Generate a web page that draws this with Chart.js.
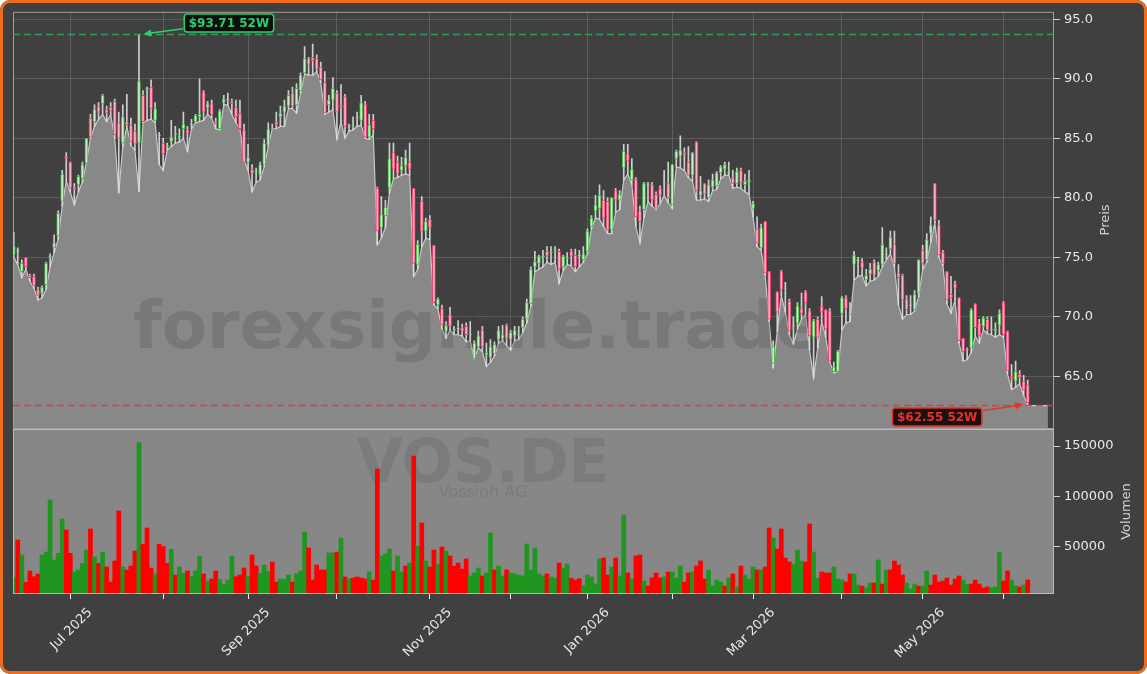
<!DOCTYPE html>
<html><head><meta charset="utf-8">
<script src="https://cdn.jsdelivr.net/npm/chart.js@4.4.1/dist/chart.umd.min.js"></script>
<style>
html,body{margin:0;padding:0;background:#ffffff;}
#frame{position:relative;width:1147px;height:674px;background:#404040;border-radius:10px;overflow:hidden;}
#frame canvas{position:absolute;left:0;top:0;}
#edge{position:absolute;left:0;top:0;width:1147px;height:674px;box-sizing:border-box;border:3px solid #f26a1b;border-radius:10px;pointer-events:none;}
</style></head><body>
<div id="frame">
<canvas id="price" width="1147" height="674"></canvas>
<canvas id="vol" width="1147" height="674"></canvas>
<div id="edge"></div>
</div>
<script>
// ---- data (trading-day index 0 = 11 Jun 2025) ----
const opens = [
75.2,75.5,73.8,75.0,73.5,73.4,72.3,72.0,72.7,75.0,
75.8,76.8,79.7,83.5,83.0,80.9,81.1,81.6,82.9,86.7,
86.4,87.7,87.9,87.4,87.6,88.1,86.3,84.6,86.4,86.1,
85.6,84.6,88.6,89.1,89.3,86.5,85.2,84.6,84.3,84.7,
85.3,85.1,85.8,85.7,86.1,86.4,86.8,88.9,87.6,87.9,
86.4,85.8,88.0,88.2,88.1,87.6,87.1,85.7,83.0,82.4,
82.2,81.9,82.8,84.4,85.8,86.4,86.8,87.2,87.7,88.8,
87.8,89.0,90.5,91.7,91.8,91.7,91.0,89.7,87.8,88.2,
88.8,87.8,88.5,85.9,86.0,86.7,86.5,87.9,85.1,86.5,
80.8,77.5,78.5,80.8,83.8,83.0,82.3,82.7,83.0,80.8,
74.4,79.7,77.2,78.2,76.0,71.0,70.7,68.8,70.2,68.9,
69.0,69.1,69.2,68.5,66.5,67.5,68.9,66.8,66.6,66.9,
68.1,68.2,69.3,68.1,68.4,68.5,69.1,69.8,71.1,74.2,
74.5,75.0,75.5,75.4,75.6,75.5,74.2,74.9,75.5,75.2,
75.1,74.8,75.5,77.6,78.9,79.1,79.8,79.7,77.3,80.6,
79.8,82.5,83.7,81.5,81.6,78.9,79.0,81.1,81.1,80.3,
80.8,81.2,81.2,79.4,83.3,83.5,83.8,83.0,81.9,84.7,
80.2,81.2,80.0,80.9,81.0,82.1,82.4,82.1,81.7,81.2,
82.3,81.1,81.3,79.1,77.4,75.8,78.0,73.8,66.1,72.1,
73.8,71.9,71.3,69.2,69.5,70.7,72.1,70.5,68.3,69.8,
70.9,70.6,70.5,65.4,65.4,70.3,71.6,70.2,74.4,74.7,
74.6,73.1,73.6,74.6,73.9,74.4,75.2,75.7,76.1,73.7,
73.5,71.5,70.9,70.6,72.0,75.6,74.8,77.0,81.2,77.7,
75.4,73.8,71.9,72.8,71.6,68.2,67.3,67.4,71.1,69.5,
69.2,69.8,68.9,68.8,69.3,71.2,68.8,65.0,64.6,65.2,
64.6,64.3];
const highs = [
77.1,75.8,74.8,75.0,73.6,73.6,72.5,72.6,74.6,75.3,
76.9,78.9,82.3,83.8,83.0,81.2,81.9,83.0,85.0,87.0,
87.8,88.0,88.7,87.7,88.0,88.3,87.2,87.8,88.7,86.7,
86.2,93.71,89.0,89.3,89.9,88.0,85.5,85.0,84.6,86.5,
86.0,85.8,87.2,86.0,86.6,87.0,90.0,89.0,88.1,88.2,
86.7,87.4,88.6,88.8,88.3,88.2,88.2,86.2,84.5,82.8,
82.5,83.0,84.9,86.3,86.2,87.2,87.7,88.2,89.0,89.3,
89.6,90.5,92.7,91.8,92.9,92.0,91.4,90.6,88.6,90.1,
89.0,89.5,88.7,86.2,86.8,87.2,88.6,88.1,87.0,87.0,
80.9,80.1,79.8,84.6,84.6,83.5,83.4,84.0,84.6,80.8,
76.4,80.1,78.3,78.5,76.0,71.6,71.0,69.6,70.8,69.2,
69.7,69.4,69.5,69.6,68.0,68.8,69.2,67.8,68.1,67.9,
69.2,69.3,69.4,68.9,69.2,69.2,70.0,71.5,74.2,75.5,
75.2,75.6,75.9,75.9,75.9,75.7,75.2,75.4,75.7,75.7,
75.6,75.9,77.4,78.5,80.2,81.1,80.6,80.0,80.0,80.8,
80.6,84.5,84.5,83.3,81.7,79.3,81.3,81.3,81.3,80.5,
81.0,82.3,83.0,82.8,84.0,85.2,84.2,84.3,83.8,84.7,
81.8,81.2,81.5,82.0,82.2,82.7,83.0,83.0,82.3,82.5,
82.5,82.0,82.3,79.7,78.4,77.8,78.0,73.8,68.0,72.1,
73.9,72.9,71.5,70.0,71.2,72.0,72.2,70.7,69.8,70.0,
71.7,70.6,70.7,66.2,67.2,71.7,71.8,71.2,75.5,75.0,
74.9,74.0,74.5,74.8,74.6,77.5,75.8,77.2,77.2,74.4,
73.6,71.8,71.8,72.2,74.8,76.0,77.0,78.4,81.2,78.1,
75.6,73.8,73.4,73.0,71.6,68.2,67.4,70.7,71.1,69.8,
70.0,70.0,70.0,69.5,70.6,71.3,68.8,66.0,66.3,65.5,
65.1,64.7];
const lows = [
75.0,74.4,73.3,74.0,73.0,72.4,71.4,71.6,72.3,74.2,
75.4,76.5,79.3,81.4,80.5,79.4,80.5,81.3,83.0,85.0,
86.0,86.6,87.0,86.4,87.0,85.0,80.4,84.3,86.0,84.4,
84.0,80.5,86.3,86.5,86.6,86.3,82.8,82.3,84.0,84.3,
84.6,84.7,85.0,83.9,85.8,86.3,86.4,86.5,87.0,86.7,
85.8,85.7,87.8,87.8,87.0,86.3,85.8,83.2,82.3,80.5,
81.3,81.5,82.6,84.3,85.8,85.8,86.0,86.0,87.5,87.5,
87.1,88.8,90.4,90.3,90.3,90.6,89.7,87.0,87.2,87.4,
84.9,86.4,85.0,85.6,85.7,86.0,86.1,85.0,84.9,85.3,
76.05,76.6,77.5,80.4,81.6,81.7,81.9,82.0,81.9,73.4,
74.0,75.9,76.6,76.5,71.0,70.7,69.0,68.2,68.9,68.5,
68.5,68.4,67.9,68.0,66.5,67.4,67.1,65.85,66.2,66.7,
67.8,68.0,67.6,67.2,68.0,68.1,68.7,69.5,70.9,73.8,
74.0,74.2,74.6,74.4,74.6,72.8,73.9,74.4,74.3,73.8,
74.2,74.6,75.3,77.4,78.3,78.2,77.6,77.0,77.0,78.8,
79.0,81.5,82.0,81.1,77.6,76.2,78.3,79.7,79.3,79.0,
79.5,80.2,79.6,79.1,82.6,82.5,82.3,81.7,81.4,79.8,
79.8,79.9,79.7,80.6,80.7,81.6,81.9,81.9,80.8,80.9,
80.8,80.5,80.3,78.4,75.9,75.6,73.5,69.6,65.7,68.8,
71.8,70.4,68.5,67.7,69.0,69.8,70.2,67.2,64.9,67.4,
69.6,68.3,66.2,65.3,65.4,68.9,69.5,69.6,73.1,73.4,
73.5,72.6,73.0,73.1,73.4,74.2,74.8,75.3,74.2,71.0,
69.8,70.2,70.2,70.5,71.7,74.0,74.6,76.3,77.9,75.0,
74.3,71.1,70.3,71.4,67.8,66.3,66.4,67.0,68.4,67.8,
68.9,68.6,68.5,68.3,68.5,68.3,65.2,63.9,64.1,64.4,
63.4,62.55];
const closes = [
75.97,75.5,74.5,74.2,73.3,72.6,71.8,72.5,74.5,75.0,
76.2,78.7,82.0,83.3,80.8,80.7,81.8,82.8,85.0,85.1,
87.4,87.2,88.6,87.1,87.3,85.3,85.0,86.8,86.1,84.7,
84.5,89.8,86.4,89.1,87.5,87.5,85.2,83.7,84.3,85.1,
85.3,85.1,86.2,85.4,86.1,86.9,87.0,87.2,87.9,87.0,
86.2,87.3,88.3,88.2,87.9,86.8,85.8,83.0,83.4,82.0,
82.2,82.8,84.6,85.8,85.85,86.1,87.1,87.7,88.6,87.7,
89.2,90.3,91.7,91.2,91.5,90.8,89.9,87.1,88.2,89.2,
87.2,87.6,86.0,85.85,86.0,86.7,88.0,85.1,86.1,85.8,
77.2,78.6,79.2,83.3,82.4,82.0,82.7,83.4,82.4,74.5,
76.1,77.2,78.0,77.5,71.2,71.5,69.3,69.3,69.2,68.9,
69.0,68.8,68.5,68.5,67.8,68.4,67.5,67.0,67.5,67.7,
68.9,68.5,68.2,68.7,68.9,68.5,69.8,71.2,74.0,74.65,
75.1,75.0,75.1,75.4,75.6,74.0,75.1,74.9,75.1,74.2,
75.1,75.3,77.2,78.3,79.4,80.2,78.3,77.3,80.0,79.8,
80.3,83.9,83.1,82.4,78.4,78.0,81.2,81.1,79.8,79.1,
80.2,81.2,80.0,82.8,83.9,84.0,83.6,81.9,83.8,80.6,
80.6,80.3,81.1,81.5,82.1,82.6,82.8,82.1,81.2,82.2,
81.3,81.4,81.5,79.5,76.2,77.5,73.7,69.8,67.5,70.4,
72.3,71.9,68.8,69.2,70.9,70.3,71.2,68.4,69.7,68.3,
70.4,69.0,66.3,65.8,67.1,71.6,70.7,70.2,75.2,74.7,
74.1,73.5,74.0,73.5,74.4,76.1,75.2,76.7,74.5,73.3,
71.4,70.6,70.9,71.9,74.8,74.5,76.5,77.7,78.1,75.2,
74.5,71.4,71.6,72.4,68.0,67.1,67.2,70.6,69.1,68.4,
69.9,68.9,68.9,69.0,70.3,68.5,65.5,64.8,65.4,64.9,
63.9,62.8];
const volumes = [
19100,56600,41700,14500,25800,20100,22800,41700,44600,96300,
36700,43300,77400,66500,43300,24800,26800,33400,46600,67500,
39700,33400,44300,29700,14800,35700,85400,29700,26800,30700,
45600,153300,52300,68500,28700,22800,52300,50000,33400,47300,
21800,29700,23400,25800,20100,25800,40700,22800,15800,17800,
25800,17500,12200,16800,40700,20100,21800,28700,20100,41700,
30700,23400,31700,25100,34700,14800,17800,17500,21800,14800,
22800,25800,64500,48600,16800,31700,26800,26800,43700,43700,
44600,58600,19800,17800,18800,19800,18800,17800,24800,16800,
127100,40700,42700,47600,25800,40700,24800,30700,33700,140100,
50600,73500,35700,29700,46600,32700,49600,45600,40700,30700,
33700,27700,37700,20800,23800,28700,20800,23800,63500,26800,
30700,20800,26800,23800,22800,21800,20800,52600,26800,48600,
22800,20800,22800,19800,18800,33700,28700,32700,18500,16800,
18100,11200,21800,19800,12800,37700,38700,21800,29700,38700,
20800,81400,23800,17800,40700,41700,15800,10900,18800,23800,
18800,19800,24800,24800,18800,30700,14800,23800,24800,30700,
35700,17800,26800,10800,16800,14800,10800,18800,22800,9900,
30700,21800,17800,29700,26800,26800,29700,68500,58600,47600,
67500,38700,34700,32700,46600,35700,34700,72500,44600,18800,
24800,23800,23800,29700,17800,16800,14800,22800,22800,11800,
10800,8900,13800,13800,36700,12800,26800,26800,35700,31700,
21800,13800,7900,12800,10800,10800,25800,11800,21800,14800,
15800,18800,11800,17800,20800,16800,12500,12800,16800,12800,
8900,9900,8900,9900,44600,15800,25800,16800,10800,9900,
11800,16800];
const volUp = [
1,0,1,0,0,0,0,1,1,1, 1,1,1,0,0,1,1,1,1,0, 1,0,1,0,0,0,0,1,0,0, 0,1,0,0,0,1,0,0,0,1,
0,1,1,0,1,1,1,0,1,0, 0,1,1,1,1,0,0,0,1,0, 0,1,1,1,0,0,1,1,1,0, 1,1,1,0,0,0,0,0,1,1,
0,1,0,1,0,0,0,0,1,0, 0,1,1,1,0,1,1,0,1,0, 1,0,1,0,0,1,0,1,0,0, 0,0,0,1,1,1,0,1,1,0,
1,1,0,1,1,1,1,1,1,1, 1,1,0,1,1,0,1,1,0,0, 0,1,1,1,1,1,0,0,1,0, 1,1,0,1,0,0,1,0,0,0,
0,1,0,1,1,1,0,0,1,0, 0,0,1,1,1,1,0,1,0,1, 0,1,1,1,0,1,0,0,1,0, 0,0,0,1,1,1,0,0,1,1,
0,0,0,1,1,1,0,0,1,1, 0,1,1,0,1,0,1,0,0,0, 0,1,1,1,0,1,1,0,0,0, 0,0,0,0,0,1,1,0,0,0,
0,0,1,1,1,0,0,1,1,0, 1,0];
const tickIdx = [14,37,58,80,103,123,142,163,183,205,225,245];
const tickLabels = ['Jul 2025','','Sep 2025','','Nov 2025','','Jan 2026','','Mar 2026','','May 2026',''];
const priceTicks = [65,70,75,80,85,90,95];
const volTicks = [50000,100000,150000];
const high52 = 93.71, high52Idx = 31;
const low52 = 62.55, low52Idx = 251;
const areaTail = 5;

// ---- build datasets ----
Chart.defaults.font.family = "'DejaVu Sans', sans-serif";
const n = closes.length;
const idx = closes.map((_, i) => i);
const areaPts = lows.map((v, i) => ({x: i, y: v}));
for (let k = 1; k <= areaTail; k++) areaPts.push({x: n - 1 + k, y: lows[n - 1]});
const wickPts = idx.map(i => ({x: i, y: [lows[i], highs[i]]}));
const bodyPts = idx.map(i => ({x: i, y: [opens[i], closes[i]]}));
const isUp = idx.map(i => closes[i] >= opens[i]);
const XMIN = -0.18, XMAX = 257.5;

function roundRectPath(ctx, x, y, w, h, r) {
  ctx.beginPath();
  ctx.moveTo(x + r, y); ctx.lineTo(x + w - r, y); ctx.quadraticCurveTo(x + w, y, x + w, y + r);
  ctx.lineTo(x + w, y + h - r); ctx.quadraticCurveTo(x + w, y + h, x + w - r, y + h);
  ctx.lineTo(x + r, y + h); ctx.quadraticCurveTo(x, y + h, x, y + h - r);
  ctx.lineTo(x, y + r); ctx.quadraticCurveTo(x, y, x + r, y); ctx.closePath();
}
function drawMarker(chart, i, val, lineCol, col, bg, text, box, start, tip) {
  const ctx = chart.ctx, ca = chart.chartArea;
  const px = chart.scales.x.getPixelForValue(i), py = chart.scales.y.getPixelForValue(val);
  ctx.save();
  ctx.beginPath(); ctx.setLineDash([7, 4]); ctx.lineWidth = 1.5; ctx.strokeStyle = lineCol;
  ctx.moveTo(ca.left, py); ctx.lineTo(ca.right, py); ctx.stroke(); ctx.setLineDash([]);
  const sx = px + start[0], sy = py + start[1], tx = px + tip[0], ty = py + tip[1];
  const a = Math.atan2(ty - sy, tx - sx);
  ctx.strokeStyle = col; ctx.fillStyle = col; ctx.lineWidth = 1.5;
  ctx.beginPath(); ctx.moveTo(sx, sy); ctx.lineTo(tx - 6 * Math.cos(a), ty - 6 * Math.sin(a)); ctx.stroke();
  ctx.beginPath(); ctx.moveTo(tx, ty);
  ctx.lineTo(tx - 8 * Math.cos(a) + 3.5 * Math.sin(a), ty - 8 * Math.sin(a) - 3.5 * Math.cos(a));
  ctx.lineTo(tx - 8 * Math.cos(a) - 3.5 * Math.sin(a), ty - 8 * Math.sin(a) + 3.5 * Math.cos(a));
  ctx.closePath(); ctx.fill();
  ctx.font = "bold 12px 'DejaVu Sans'";
  const w = ctx.measureText(text).width + 9, h = 18;
  const cx = px + box[0], cy = py + box[1];
  roundRectPath(ctx, cx - w / 2, cy - h / 2, w, h, 3);
  ctx.fillStyle = bg; ctx.fill(); ctx.lineWidth = 1.5; ctx.strokeStyle = col; ctx.stroke();
  ctx.fillStyle = col; ctx.textAlign = 'center'; ctx.textBaseline = 'middle';
  ctx.fillText(text, cx, cy + 0.5);
  ctx.restore();
}
function axisTitle(ctx, text, x, y) {
  ctx.save(); ctx.translate(x, y); ctx.rotate(-Math.PI / 2);
  ctx.font = "13px 'DejaVu Sans'"; ctx.fillStyle = '#d2d2d2';
  ctx.textAlign = 'center'; ctx.textBaseline = 'middle'; ctx.fillText(text, 0, 0); ctx.restore();
}

const pricePlugin = {
  id: 'pricedeco',
  afterDatasetDraw(chart, args) {
    if (args.index !== 0) return;
    const ctx = chart.ctx, ca = chart.chartArea;
    ctx.save();
    ctx.beginPath(); ctx.rect(ca.left, ca.top, ca.right - ca.left, ca.bottom - ca.top); ctx.clip();
    ctx.font = "bold 66px 'DejaVu Sans'"; ctx.fillStyle = 'rgba(62,62,62,0.2)';
    ctx.textAlign = 'left'; ctx.textBaseline = 'alphabetic';
    ctx.fillText('forexsignale.trade', 133, 348);
    ctx.restore();
  },
  afterDraw(chart) {
    const ctx = chart.ctx, ca = chart.chartArea;
    ctx.save(); ctx.strokeStyle = 'rgba(190,190,190,0.75)'; ctx.lineWidth = 1;
    ctx.strokeRect(ca.left + 0.5, ca.top + 0.5, ca.right - ca.left - 1, ca.bottom - ca.top); ctx.restore();
    axisTitle(ctx, 'Preis', ca.right + 52, (ca.top + ca.bottom) / 2);
    drawMarker(chart, high52Idx, high52, 'rgba(46,170,92,0.9)', '#2ecc71', 'rgba(8,12,8,0.92)', '$93.71 52W', [90, -11.5], [44, -5.7], [4.3, -0.4]);
    drawMarker(chart, low52Idx, low52, 'rgba(222,60,52,0.9)', '#ea3127', 'rgba(16,6,6,0.92)', '$62.55 52W', [-90.6, 11.3], [-44.5, 5], [-4.5, -1]);
  }
};
const volPlugin = {
  id: 'voldeco',
  beforeDraw(chart) {
    const ctx = chart.ctx, ca = chart.chartArea;
    ctx.save(); ctx.fillStyle = '#878787'; ctx.fillRect(ca.left, ca.top, ca.right - ca.left, ca.bottom - ca.top); ctx.restore();
  },
  beforeDatasetsDraw(chart) {
    const ctx = chart.ctx;
    ctx.save(); ctx.fillStyle = 'rgba(62,62,62,0.16)'; ctx.textAlign = 'center'; ctx.textBaseline = 'alphabetic';
    ctx.font = "bold 60px 'DejaVu Sans'"; ctx.fillText('VOS.DE', 483, 482);
    ctx.font = "16px 'DejaVu Sans'"; ctx.fillText('Vossloh AG', 483, 497);
    ctx.restore();
  },
  afterDraw(chart) {
    const ctx = chart.ctx, ca = chart.chartArea;
    ctx.save(); ctx.strokeStyle = 'rgba(200,200,200,0.8)'; ctx.lineWidth = 1;
    ctx.strokeRect(ca.left + 0.5, ca.top + 0.5, ca.right - ca.left - 1, ca.bottom - ca.top - 1); ctx.restore();
    axisTitle(ctx, 'Volumen', ca.right + 73, (ca.top + ca.bottom) / 2);
  }
};

const xTicksBuild = s => { s.ticks = tickIdx.map(v => ({value: v})); };

new Chart(document.getElementById('price'), {
  type: 'bar',
  data: { datasets: [
    { type: 'line', data: areaPts, order: 3, fill: 'start', backgroundColor: '#888888',
      borderColor: '#c9c9c9', borderWidth: 1.2, pointRadius: 0, tension: 0 },
    { type: 'bar', data: wickPts, order: 2, grouped: false, barThickness: 1,
      backgroundColor: 'rgba(222,222,222,0.9)', borderWidth: 0 },
    { type: 'bar', data: bodyPts, order: 1, grouped: false, barThickness: 3, minBarLength: 1,
      backgroundColor: isUp.map(u => u ? '#cdeccd' : '#f6b3c4'),
      borderColor: isUp.map(u => u ? '#45b845' : '#e8406c'), borderWidth: 1, borderSkipped: false }
  ]},
  options: {
    responsive: false, animation: false, events: [],
    layout: { padding: { left: 13, top: 11, right: 23, bottom: 246 } },
    plugins: { legend: { display: false }, tooltip: { enabled: false } },
    scales: {
      x: { type: 'linear', offset: false, bounds: 'data', min: XMIN, max: XMAX, afterBuildTicks: xTicksBuild,
           ticks: { display: false }, grid: { color: 'rgba(255,255,255,0.15)', drawTicks: false, offset: false },
           border: { display: false }, afterFit: s => { s.height = 0; } },
      y: { position: 'right', min: 60.67, max: 95.62,
           afterBuildTicks: s => { s.ticks = priceTicks.map(v => ({value: v})); },
           ticks: { color: '#e8e8e8', font: { size: 13 }, padding: 4, callback: v => Number(v).toFixed(1) },
           grid: { color: 'rgba(255,255,255,0.15)', tickColor: '#cfcfcf', tickLength: 6 },
           border: { display: false }, afterFit: s => { s.width = 70; } }
    }
  },
  plugins: [pricePlugin]
});

new Chart(document.getElementById('vol'), {
  type: 'bar',
  data: { datasets: [
    { data: volumes.map((v, i) => ({x: i, y: v})), backgroundColor: volUp.map(u => u ? '#1f961f' : '#ff0000'),
      barPercentage: 1, categoryPercentage: 1, borderWidth: 0 }
  ]},
  options: {
    responsive: false, animation: false, events: [],
    layout: { padding: { left: 13, top: 429, right: 23, bottom: 0 } },
    plugins: { legend: { display: false }, tooltip: { enabled: false } },
    scales: {
      x: { type: 'linear', offset: false, bounds: 'data', min: XMIN, max: XMAX, afterBuildTicks: xTicksBuild,
           ticks: { color: '#e8e8e8', font: { size: 13 }, minRotation: 45, maxRotation: 45, autoSkip: false,
                    labelOffset: 20, padding: 6, callback: (v, i) => tickLabels[i] },
           grid: { drawOnChartArea: false, tickColor: '#f0f0f0', tickLength: 5, offset: false },
           border: { display: false }, afterFit: s => { s.height = 80; } },
      y: { position: 'right', min: 2900, max: 166900,
           afterBuildTicks: s => { s.ticks = volTicks.map(v => ({value: v})); },
           ticks: { color: '#e8e8e8', font: { size: 13 }, padding: 4, callback: v => String(v) },
           grid: { drawOnChartArea: false, tickColor: '#cfcfcf', tickLength: 6 },
           border: { display: false }, afterFit: s => { s.width = 70; } }
    }
  },
  plugins: [volPlugin]
});
</script>
</body></html>
